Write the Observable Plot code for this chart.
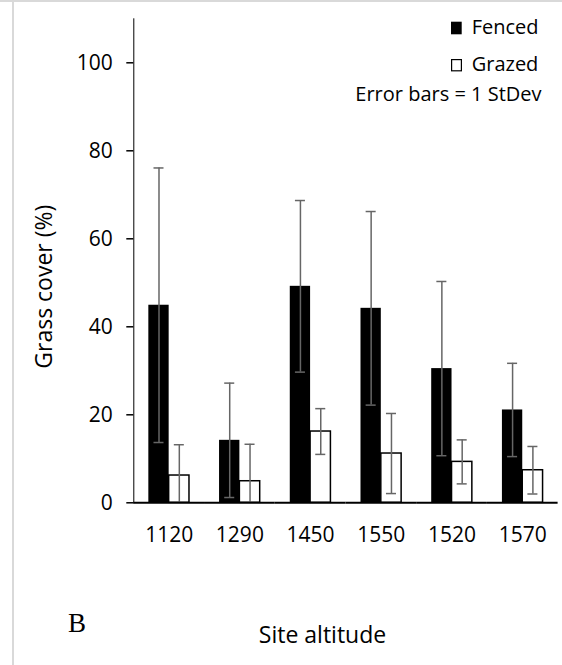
<!DOCTYPE html>
<html>
<head>
<meta charset="utf-8">
<script src="https://cdn.jsdelivr.net/npm/d3@7"></script>
<script src="https://cdn.jsdelivr.net/npm/@observablehq/plot@0.6"></script>
<style>
  html, body { margin: 0; padding: 0; background: #fff; }
  #wrap { position: relative; width: 562px; height: 665px; overflow: hidden; }
  #overlay { position: absolute; left: 0; top: 0; pointer-events: none; }
  #chart svg { display: block; }
  #chart [aria-label="y-axis tick"] path, #chart [aria-label="y-axis tick"] line { stroke-width: 1.5; }
  #chart [aria-label="y-axis"] path, #chart [aria-label="y-axis"] line { stroke-width: 1.5; }
</style>
</head>
<body>
<div id="wrap">
  <div id="chart"></div>
  <svg id="overlay" width="562" height="665" xmlns="http://www.w3.org/2000/svg">
    <rect x="0" y="0" width="562" height="2" fill="#d9d9d9"></rect>
    <rect x="12" y="0" width="2" height="665" fill="#d9d9d9"></rect>
    <g font-family="'Open Sans', sans-serif" fill="#000">
      <rect x="451" y="21.7" width="10.7" height="12.6" fill="#000"></rect>
      <text x="471.7" y="34.3" font-size="20">Fenced</text>
      <rect x="451.6" y="59.6" width="9.8" height="11.2" fill="#fff" stroke="#000" stroke-width="1.2"></rect>
      <text x="471.7" y="71" font-size="20">Grazed</text>
      <text x="541.5" y="101" font-size="20" text-anchor="end">Error bars = 1 StDev</text>
      <text transform="translate(52,286.7) rotate(-90)" font-size="23" text-anchor="middle">Grass cover (%)</text>
      <text x="322.5" y="642.7" font-size="23" text-anchor="middle">Site altitude</text>
    </g>
    <text x="68" y="631.7" font-family="'Liberation Serif', serif" font-size="27" fill="#000">B</text>
  </svg>
</div>
<script>
const sites = ["1120", "1290", "1450", "1550", "1520", "1570"];
const types = ["Fenced", "Grazed"];
const fencedMean = [44.9, 14.2, 49.2, 44.2, 30.5, 21.1];
const fencedSd   = [31.2, 13.0, 19.5, 22.0, 19.8, 10.6];
const grazedMean = [6.2, 4.9, 16.2, 11.2, 9.3, 7.4];
const grazedSd   = [7.0, 8.4, 5.2, 9.1, 5.0, 5.4];
const yTicks = [0, 20, 40, 60, 80, 100];

const rows = sites.flatMap((site, i) => [
  {site, type: "Fenced", mean: fencedMean[i], sd: fencedSd[i]},
  {site, type: "Grazed", mean: grazedMean[i], sd: grazedSd[i]}
]).map(d => ({...d, lo: Math.max(0, d.mean - d.sd), hi: d.mean + d.sd, lowCap: d.mean - d.sd >= 0}));

const errColor = "#666666";

const chart = Plot.plot({
  width: 562,
  height: 665,
  marginLeft: 133.3,
  marginRight: 4.4,
  marginTop: 18.3,
  marginBottom: 162.7,
  style: {fontFamily: "'Open Sans', sans-serif", fontSize: "21px", color: "#000", background: "transparent"},
  facet: {data: rows, x: "site"},
  fx: {domain: sites, padding: 0, axis: "bottom", tickSize: 0, tickPadding: 24.5, label: null, round: false},
  x: {domain: types, paddingInner: 0, paddingOuter: 0.74, axis: null, round: false},
  y: {domain: [0, 110], ticks: yTicks, tickSize: 7, tickPadding: 14, label: null, line: true},
  marks: [
    Plot.barY(rows, {filter: d => d.type === "Fenced", x: "type", y: "mean", fill: "black"}),
    Plot.barY(rows, {filter: d => d.type === "Grazed", x: "type", y: "mean", fill: "white", stroke: "black", strokeWidth: 1.5}),
    Plot.ruleX(rows, {x: "type", y1: "lo", y2: "hi", stroke: errColor, strokeWidth: 1.5}),
    Plot.tickY(rows, {x: "type", y: "hi", stroke: errColor, strokeWidth: 1.5, insetLeft: 5.15, insetRight: 5.15}),
    Plot.tickY(rows, {filter: d => d.lowCap, x: "type", y: "lo", stroke: errColor, strokeWidth: 1.5, insetLeft: 5.15, insetRight: 5.15}),
    Plot.ruleY([0], {stroke: "black", strokeWidth: 2})
  ]
});
document.getElementById("chart").appendChild(chart);
</script>
</body>
</html>
